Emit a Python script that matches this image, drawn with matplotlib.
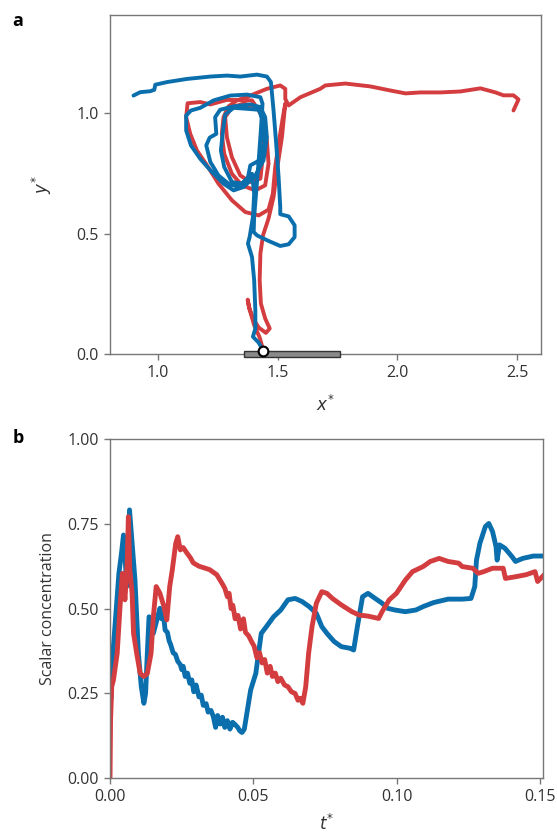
import numpy as np
import matplotlib.pyplot as plt
from matplotlib.patches import Rectangle

plt.rcParams['font.family'] = ['Open Sans', 'DejaVu Sans']

RED = '#d43d3f'
BLUE = '#0a6fac'
GREY = '#777777'

# panel a: trajectories (x*, y*)
red_x = [2.485, 2.506, 2.485, 2.443, 2.410, 2.347, 2.263, 2.180, 2.096, 2.034, 1.971, 1.887,
         1.783, 1.699, 1.678, 1.595, 1.546, 1.532, 1.532, 1.511, 1.455, 1.386, 1.330, 1.295,
         1.274, 1.267, 1.277, 1.309, 1.351, 1.407, 1.448, 1.462, 1.455, 1.444, 1.416, 1.358,
         1.309, 1.281, 1.288, 1.309, 1.344, 1.386, 1.428, 1.441, 1.440, 1.393, 1.288, 1.219,
         1.177, 1.124, 1.118, 1.135, 1.163, 1.205, 1.253, 1.309, 1.365, 1.421, 1.462, 1.480,
         1.490, 1.504, 1.522, 1.532, 1.518, 1.497, 1.483, 1.462, 1.439, 1.428, 1.425, 1.430,
         1.448, 1.467, 1.451, 1.421, 1.397, 1.380, 1.375, 1.382, 1.402, 1.425, 1.437]
red_y = [1.012, 1.058, 1.075, 1.075, 1.087, 1.104, 1.091, 1.087, 1.087, 1.083, 1.095, 1.112,
         1.124, 1.116, 1.102, 1.067, 1.033, 1.060, 1.102, 1.116, 1.102, 1.074, 1.054, 1.029,
         0.984, 0.915, 0.832, 0.749, 0.701, 0.680, 0.701, 0.791, 0.888, 0.971, 1.026, 1.040,
         1.026, 0.984, 0.901, 0.818, 0.742, 0.715, 0.729, 0.846, 0.984, 1.054, 1.056, 1.037,
         1.047, 1.042, 0.984, 0.915, 0.846, 0.784, 0.708, 0.639, 0.590, 0.576, 0.600, 0.666,
         0.777, 0.874, 0.984, 1.040, 0.901, 0.763, 0.653, 0.563, 0.493, 0.417, 0.307, 0.210,
         0.148, 0.106, 0.088, 0.110, 0.148, 0.196, 0.226, 0.189, 0.120, 0.069, 0.026]

blue_x = [0.898, 0.926, 0.968, 0.985, 0.989, 1.038, 1.121, 1.219, 1.288, 1.344, 1.414, 1.455,
          1.472, 1.483, 1.494, 1.504, 1.511, 1.511, 1.546, 1.571, 1.571, 1.546, 1.511, 1.462,
          1.414, 1.400, 1.402, 1.411, 1.421, 1.430, 1.437, 1.428, 1.372, 1.302, 1.233, 1.177,
          1.138, 1.118, 1.118, 1.138, 1.177, 1.226, 1.274, 1.316, 1.358, 1.407, 1.441, 1.455,
          1.448, 1.428, 1.386, 1.316, 1.260, 1.239, 1.244, 1.216, 1.202, 1.219, 1.253, 1.295,
          1.337, 1.375, 1.386, 1.425, 1.444, 1.441, 1.421, 1.372, 1.316, 1.281, 1.272, 1.263,
          1.277, 1.309, 1.351, 1.393, 1.402, 1.397, 1.383, 1.376, 1.393, 1.402, 1.407, 1.407,
          1.397, 1.421, 1.437]
blue_y = [1.074, 1.088, 1.092, 1.098, 1.119, 1.130, 1.143, 1.153, 1.157, 1.153, 1.161, 1.153,
          1.130, 1.012, 0.874, 0.735, 0.611, 0.581, 0.572, 0.535, 0.486, 0.456, 0.449, 0.470,
          0.493, 0.507, 0.570, 0.680, 0.805, 0.929, 1.040, 1.067, 1.078, 1.074, 1.054, 1.023,
          1.012, 0.991, 0.929, 0.867, 0.811, 0.756, 0.708, 0.680, 0.694, 0.742, 0.805, 0.901,
          0.984, 1.026, 1.037, 1.029, 1.015, 0.984, 0.915, 0.899, 0.867, 0.798, 0.742, 0.708,
          0.694, 0.729, 0.784, 0.805, 0.874, 0.964, 1.015, 1.019, 1.023, 0.995, 0.929, 0.846,
          0.777, 0.715, 0.708, 0.749, 0.666, 0.570, 0.486, 0.459, 0.403, 0.307, 0.182, 0.106,
          0.072, 0.047, 0.019]

plate_x = (1.36, 1.76)
source_xy = (1.437, 0.012)

# panel b: scalar concentration vs t*
blue_t = [0.0004, 0.0010, 0.0019, 0.0031, 0.0040, 0.0047, 0.0052, 0.0058, 0.0068, 0.0087, 0.0099,
          0.0109, 0.0118, 0.0124, 0.0130, 0.0136, 0.0151, 0.0174, 0.0180, 0.0186, 0.0192, 0.0200,
          0.0206, 0.0211, 0.0220, 0.0228, 0.0236, 0.0245, 0.0250, 0.0255, 0.0262, 0.0270, 0.0278,
          0.0285, 0.0292, 0.0300, 0.0310, 0.0318, 0.0325, 0.0335, 0.0342, 0.0352, 0.0360, 0.0368,
          0.0375, 0.0384, 0.0392, 0.0400, 0.0409, 0.0418, 0.0427, 0.0434, 0.0445, 0.0452, 0.0460,
          0.0468, 0.0477, 0.0490,
          0.0508, 0.0527, 0.0545, 0.0570, 0.0595, 0.0620, 0.0645, 0.0669, 0.0694, 0.0719, 0.0738,
          0.0756, 0.0781, 0.0806, 0.0837, 0.0849, 0.0862, 0.0880, 0.0899, 0.0924, 0.0948, 0.0967,
          0.0992, 0.1029, 0.1066, 0.1091, 0.1128, 0.1178, 0.1227, 0.1258, 0.1271, 0.1277, 0.1289,
          0.1308, 0.1320, 0.1333, 0.1345, 0.1349, 0.1357, 0.1376, 0.1401, 0.1413, 0.1438, 0.1475,
          0.1512]
blue_c = [0.241, 0.368, 0.467, 0.604, 0.663, 0.717, 0.663, 0.565, 0.791, 0.584, 0.368,
          0.270, 0.221, 0.250, 0.368, 0.476, 0.427, 0.501, 0.470, 0.485, 0.437, 0.430,
          0.405, 0.395, 0.370, 0.365, 0.345, 0.335, 0.320, 0.330, 0.300, 0.310, 0.280,
          0.290, 0.255, 0.275, 0.240, 0.245, 0.215, 0.220, 0.195, 0.200, 0.182, 0.150,
          0.185, 0.160, 0.180, 0.150, 0.170, 0.145, 0.165, 0.160, 0.150, 0.140, 0.135,
          0.145, 0.192, 0.260,
          0.309, 0.427, 0.447, 0.476, 0.496, 0.526, 0.530, 0.521, 0.506, 0.486, 0.447,
          0.427, 0.403, 0.388, 0.383, 0.378, 0.447, 0.535, 0.545, 0.530, 0.516, 0.501,
          0.496, 0.491, 0.496, 0.506, 0.518, 0.528, 0.528, 0.530, 0.565, 0.643, 0.693,
          0.742, 0.751, 0.727, 0.683, 0.643, 0.688, 0.678, 0.653, 0.639, 0.648, 0.655,
          0.655]

red_t = [0.0, 0.0002, 0.0006, 0.0012, 0.0025, 0.0035, 0.0043, 0.0052, 0.0060, 0.0064, 0.0069,
         0.0077, 0.0082, 0.0093, 0.0105, 0.0118, 0.0130, 0.0143, 0.0151, 0.0161, 0.0174, 0.0188,
         0.0198, 0.0208, 0.0217, 0.0229, 0.0236, 0.0245, 0.0255, 0.0267, 0.0280, 0.0290, 0.0310,
         0.0347, 0.0372, 0.0390, 0.0400, 0.0409, 0.0415, 0.0422, 0.0428, 0.0436, 0.0446, 0.0455,
         0.0465, 0.0472, 0.0483, 0.0495, 0.0502, 0.0512, 0.0521, 0.0530, 0.0539, 0.0548, 0.0558,
         0.0566, 0.0576, 0.0585, 0.0595, 0.0608, 0.0620, 0.0632, 0.0645, 0.0655, 0.0663, 0.0672,
         0.0682, 0.0692, 0.0704, 0.0719, 0.0738, 0.0756,
         0.0775, 0.0806, 0.0843, 0.0868, 0.0899, 0.0936, 0.0948, 0.0973, 0.0998, 0.1029, 0.1054,
         0.1091, 0.1116, 0.1147, 0.1178, 0.1215, 0.1227, 0.1264, 0.1283, 0.1302, 0.1333, 0.1370,
         0.1378, 0.1413, 0.1450, 0.1481, 0.1490, 0.1512]
red_c = [0.0, 0.172, 0.270, 0.290, 0.368, 0.506, 0.604, 0.526, 0.634, 0.771, 0.614,
         0.545, 0.427, 0.368, 0.309, 0.300, 0.309, 0.368, 0.476, 0.565, 0.545, 0.506,
         0.467, 0.565, 0.614, 0.692, 0.712, 0.673, 0.680, 0.665, 0.650, 0.635, 0.625,
         0.615, 0.600, 0.575, 0.560, 0.535, 0.545, 0.500, 0.510, 0.470, 0.480, 0.440,
         0.470, 0.430, 0.420, 0.400, 0.390, 0.355, 0.370, 0.340, 0.350, 0.310, 0.330,
         0.300, 0.310, 0.285, 0.295, 0.275, 0.270, 0.255, 0.250, 0.230, 0.236, 0.221,
         0.270, 0.368, 0.447, 0.516, 0.550, 0.545,
         0.530, 0.511, 0.491, 0.481, 0.478, 0.471, 0.491, 0.526, 0.545, 0.584, 0.609,
         0.624, 0.639, 0.648, 0.639, 0.634, 0.624, 0.619, 0.604, 0.609, 0.619, 0.619,
         0.589, 0.594, 0.600, 0.609, 0.580, 0.599]


def style_axes(ax):
    for s in ax.spines.values():
        s.set_color(GREY)
        s.set_linewidth(1.0)
    ax.tick_params(direction='out', length=4, width=1.0, color=GREY,
                   labelsize=11.5, labelcolor='#333333', pad=4)


fig = plt.figure(figsize=(5.57, 8.35), dpi=100)
ax1 = fig.add_axes([0.1975, 0.576, 0.7738, 0.4064])
ax2 = fig.add_axes([0.1975, 0.0679, 0.778, 0.4064])

ax1.plot(red_x, red_y, color=RED, lw=2.8, solid_capstyle='round', solid_joinstyle='round')
ax1.plot(blue_x, blue_y, color=BLUE, lw=2.8, solid_capstyle='round', solid_joinstyle='round')
ax1.add_patch(Rectangle((plate_x[0], -0.014), plate_x[1] - plate_x[0], 0.028,
                        facecolor='#8a8a8a', edgecolor='#333333', lw=1.0,
                        clip_on=False, zorder=5))
ax1.plot([source_xy[0]], [source_xy[1]], 'o', ms=7, mfc='white', mec='black', mew=1.5,
         clip_on=False, zorder=6)
ax1.set_xlim(0.8, 2.6)
ax1.set_ylim(0, 1.41)
ax1.set_xticks([1.0, 1.5, 2.0, 2.5])
ax1.set_yticks([0.0, 0.5, 1.0])
ax1.set_xlabel('$\\mathit{x}^{*}$', fontsize=12, color='#333333', labelpad=10)
ax1.set_ylabel('$\\mathit{y}^{*}$', fontsize=12, color='#333333', labelpad=16)
style_axes(ax1)

ax2.plot(blue_t, blue_c, color=BLUE, lw=3.5, solid_joinstyle='round')
ax2.plot(red_t, red_c, color=RED, lw=3.5, solid_joinstyle='round')
ax2.set_xlim(0, 0.151)
ax2.set_ylim(0, 1.0)
ax2.set_xticks([0.0, 0.05, 0.10, 0.15])
ax2.set_xticklabels(['0.00', '0.05', '0.10', '0.15'])
ax2.set_yticks([0.0, 0.25, 0.5, 0.75, 1.0])
ax2.set_yticklabels(['0.00', '0.25', '0.50', '0.75', '1.00'])
ax2.set_xlabel('$\\mathit{t}^{*}$', fontsize=12, color='#333333', labelpad=6)
ax2.set_ylabel('Scalar concentration', fontsize=11.5, color='#333333', labelpad=8)
style_axes(ax2)

fig.text(0.022, 0.975, 'a', fontsize=13, fontweight='bold', va='center')
fig.text(0.022, 0.476, 'b', fontsize=13, fontweight='bold', va='center')

fig.savefig('out.png', dpi=100)
